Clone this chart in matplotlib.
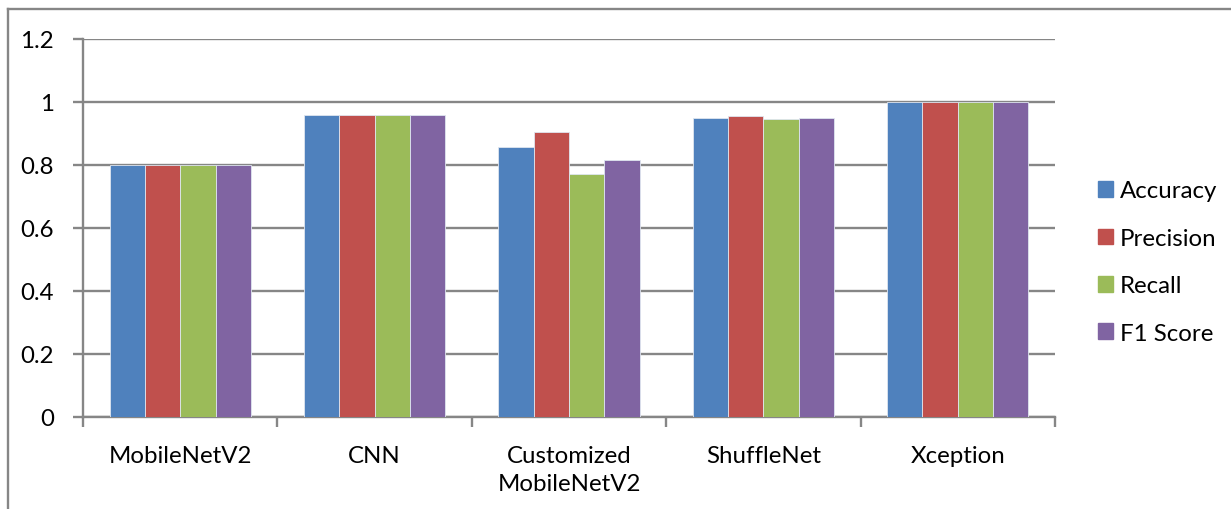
import numpy as np
import matplotlib
matplotlib.use("Agg")
import matplotlib.pyplot as plt
from matplotlib.lines import Line2D

plt.rcParams['font.family'] = ['Lato', 'DejaVu Sans']

models = ['MobileNetV2', 'CNN', 'Customized\nMobileNetV2', 'ShuffleNet', 'Xception']
metrics = ['Accuracy', 'Precision', 'Recall', 'F1 Score']
accuracy = [0.80, 0.96, 0.856, 0.949, 1.0]
precision = [0.80, 0.96, 0.904, 0.955, 1.0]
recall = [0.80, 0.96, 0.771, 0.947, 1.0]
f1_score = [0.80, 0.96, 0.816, 0.949, 1.0]
colors = ['#4F81BD', '#C0504D', '#9BBB59', '#8064A2']

W, H = 1231, 510
fig = plt.figure(figsize=(W / 100, H / 100), dpi=100)
ax = fig.add_axes([83 / W, 1 - 418 / H, (1055 - 83) / W, (418 - 40) / H])

grey = '#868686'
fs = 17.3
x = np.arange(len(models))
bw = 1 / 5.5
series = [accuracy, precision, recall, f1_score]
for k, (vals, c, name) in enumerate(zip(series, colors, metrics)):
    ax.bar(x + (k - 1.5) * bw, vals, width=bw, color=c, edgecolor='#dfe6f0',
           linewidth=0.6, label=name, zorder=3)

ax.set_xlim(-0.5, len(models) - 0.5)
ax.set_ylim(0, 1.2)
ax.set_yticks(np.arange(0, 1.21, 0.2))
ax.set_yticklabels(['0', '0.2', '0.4', '0.6', '0.8', '1', '1.2'])
ax.yaxis.grid(True, color=grey, linewidth=1.7, zorder=0)
ax.set_axisbelow(True)

# category labels centred, ticks on group boundaries
ax.set_xticks(x)
ax.set_xticklabels(models, fontsize=fs, linespacing=1.4)
ax.tick_params(axis='x', length=0, pad=20)
ax.set_xticks(np.arange(-0.5, len(models)), minor=True)
ax.tick_params(axis='x', which='minor', length=7, width=1.7, color=grey)
ax.tick_params(axis='y', length=7, width=1.7, color=grey, labelsize=fs, pad=14)

for s in ['top', 'right']:
    ax.spines[s].set_visible(False)
for s in ['left', 'bottom']:
    ax.spines[s].set_color(grey)
    ax.spines[s].set_linewidth(1.7)

handles = [plt.Rectangle((0, 0), 1, 1, color=c) for c in colors]
fig.legend(handles, metrics, loc='center left', bbox_to_anchor=(1098 / W, 1 - 263 / H),
           frameon=False, fontsize=fs, handlelength=0.62, handleheight=0.62,
           handletextpad=0.3, labelspacing=1.1, borderaxespad=0, borderpad=0)

# outer chart border (left and top edges)
fig.add_artist(Line2D([8 / W, 8 / W], [0, 1 - 10 / H], color=grey, linewidth=1.7))
fig.add_artist(Line2D([8 / W, 1], [1 - 10 / H, 1 - 10 / H], color=grey, linewidth=1.7))

fig.savefig('out.png', dpi=100)
